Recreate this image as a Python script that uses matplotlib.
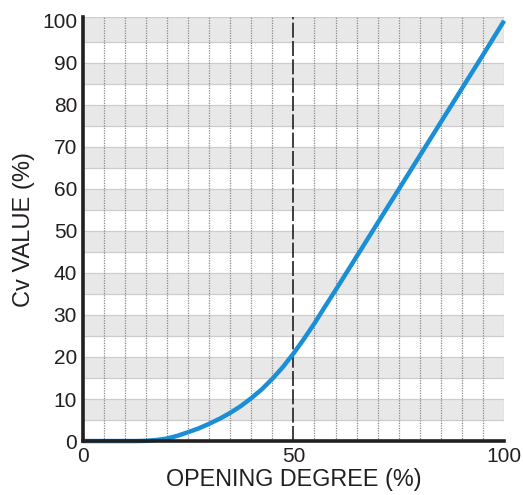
import matplotlib
matplotlib.use("Agg")
import matplotlib.pyplot as plt

opening = [0, 5, 10, 12.5, 15, 17.5, 20, 22.5, 25, 27.5, 30, 32.5, 35, 37.5,
           40, 42.5, 45, 47.5, 50, 52.5, 55, 57.5, 60, 65, 70, 75, 80, 85,
           90, 95, 100]
cv_value = [0, 0, 0, 0, 0.05, 0.25, 0.6, 1.25, 2.1, 3.0, 4.1, 5.3, 6.7, 8.3,
            10.2, 12.3, 14.8, 17.6, 20.8, 24.3, 28.0, 32.0, 35.9, 43.9, 51.9,
            59.9, 67.9, 75.9, 83.9, 91.9, 100]

x_ticks = [0, 50, 100]
y_ticks = list(range(0, 101, 10))
grid_x = [v for v in range(5, 100, 5) if v != 50]
band_lows = list(range(5, 100, 10))

TEXT = "#231f20"
plt.rcParams["font.family"] = ["Liberation Sans", "DejaVu Sans"]

fig = plt.figure(figsize=(5.23, 4.95), dpi=100)
ax = fig.add_axes([0.158, 0.109, 0.806, 0.856])

ymax = 100.8
for lo in band_lows:
    hi = lo + 5 if lo < 95 else ymax
    ax.axhspan(lo, hi, facecolor="#e8e8e8", edgecolor="#cdcdcd",
               linewidth=0.9, zorder=0)

for gx in grid_x:
    ax.axvline(gx, color="#8a8a8a", linestyle=(0, (1, 1)),
               linewidth=0.9, zorder=1)
ax.axvline(50, color=TEXT, linestyle=(0, (9, 2)), linewidth=1.2, zorder=2)

ax.plot(opening, cv_value, color="#1a8fd6", linewidth=3.2,
        solid_capstyle="butt", solid_joinstyle="round", zorder=3,
        clip_on=False)

ax.set_xlim(0, 100)
ax.set_ylim(0, ymax)
ax.set_xticks(x_ticks)
ax.set_yticks(y_ticks)
ax.tick_params(length=0, labelsize=15, labelcolor=TEXT, pad=4)

for side in ("top", "right"):
    ax.spines[side].set_visible(False)
for side in ("left", "bottom"):
    ax.spines[side].set_linewidth(2.6)
    ax.spines[side].set_color(TEXT)
    ax.spines[side].set_zorder(4)

ax.set_xlabel("OPENING DEGREE (%)", fontsize=16.8, color=TEXT, labelpad=2)
ax.set_ylabel("Cv VALUE (%)", fontsize=17, color=TEXT, labelpad=5)

fig.savefig("out.png", dpi=100, facecolor="white")
